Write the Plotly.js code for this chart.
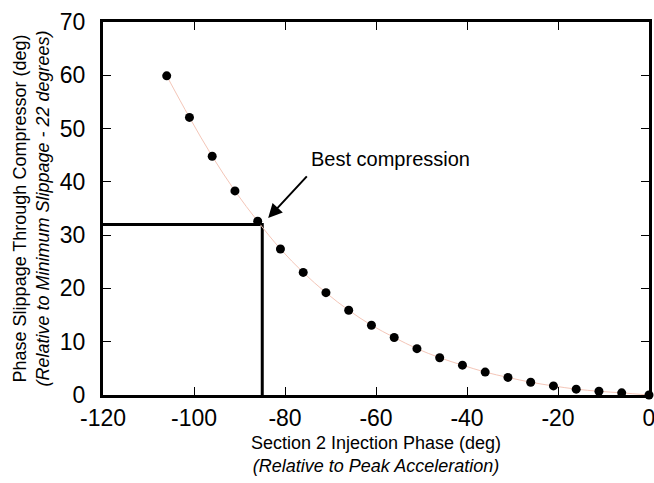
<!DOCTYPE html>
<html>
<head>
<meta charset="utf-8">
<script src="https://cdn.plot.ly/plotly-3.0.1.min.js"></script>
<style>html,body{margin:0;padding:0;background:#fff}#chart{width:654px;height:483px}</style>
</head>
<body>
<div id="chart"></div>
<script>
// Data
const injectionPhase = [-106, -101, -96, -91, -86, -81, -76, -71, -66, -61, -56, -51, -46, -41, -36, -31, -26, -21, -16, -11, -6, 0];
const phaseSlippage = [59.9, 52.1, 44.8, 38.3, 32.6, 27.4, 23.0, 19.2, 15.9, 13.1, 10.8, 8.7, 7.0, 5.6, 4.3, 3.3, 2.4, 1.7, 1.1, 0.7, 0.4, 0];
const bestX = [-120, -85, -85];
const bestY = [32, 32, 0];
const xTicks = [-120, -100, -80, -60, -40, -20, 0];
const yTicks = [0, 10, 20, 30, 40, 50, 60, 70];

const FONT = 'Liberation Sans, Arial, Helvetica, sans-serif';

const traces = [
  {
    x: bestX, y: bestY, type: 'scatter', mode: 'lines',
    line: {color: '#000', width: 3}, hoverinfo: 'skip', cliponaxis: false
  },
  {
    x: injectionPhase, y: phaseSlippage, type: 'scatter', mode: 'lines',
    line: {color: '#f4c6b8', width: 1, shape: 'spline'}, cliponaxis: false
  },
  {
    x: injectionPhase, y: phaseSlippage, type: 'scatter', mode: 'markers',
    marker: {color: '#000', size: 9}, cliponaxis: false
  }
];

const axisCommon = {
  showgrid: false, zeroline: false, showline: true, linecolor: '#000', linewidth: 3,
  mirror: 'ticks', ticks: 'inside', ticklen: 8, tickwidth: 1, tickcolor: '#000',
  ticklabeloverflow: 'allow',
  tickfont: {family: FONT, size: 23, color: '#000'}
};

const layout = {
  width: 654, height: 483,
  margin: {l: 103, r: 5, t: 22, b: 88},
  paper_bgcolor: '#fff', plot_bgcolor: '#fff',
  showlegend: false,
  font: {family: FONT, color: '#000'},
  xaxis: Object.assign({}, axisCommon, {
    range: [-120, 0], tickvals: xTicks, ticktext: xTicks.map(String),
    title: {text: 'Section 2 Injection Phase (deg)<br><i>(Relative to Peak Acceleration)</i>',
            font: {family: FONT, size: 18, color: '#000'}, standoff: 7}
  }),
  yaxis: Object.assign({}, axisCommon, {
    range: [0, 70], tickvals: yTicks, ticktext: yTicks.map(String),
    ticklabelstandoff: 10,
    title: {text: 'Phase Slippage Through Compressor (deg)<br><i>(Relative to Minimum Slippage - 22 degrees)</i>',
            font: {family: FONT, size: 18, color: '#000'}, standoff: 6}
  }),
  annotations: [
    {
      x: -83.7, y: 33.2, xref: 'x', yref: 'y', ax: -74.9, ay: 41.3, axref: 'x', ayref: 'y',
      text: '', showarrow: true, arrowhead: 2, arrowsize: 1.4, arrowwidth: 2, arrowcolor: '#000'
    },
    {
      x: -74.8, y: 44.2, xref: 'x', yref: 'y', xanchor: 'left', yanchor: 'middle',
      text: 'Best compression', showarrow: false,
      font: {family: FONT, size: 20, color: '#000'}
    }
  ]
};

Plotly.newPlot('chart', traces, layout, {displayModeBar: false, staticPlot: true});
</script>
</body>
</html>
